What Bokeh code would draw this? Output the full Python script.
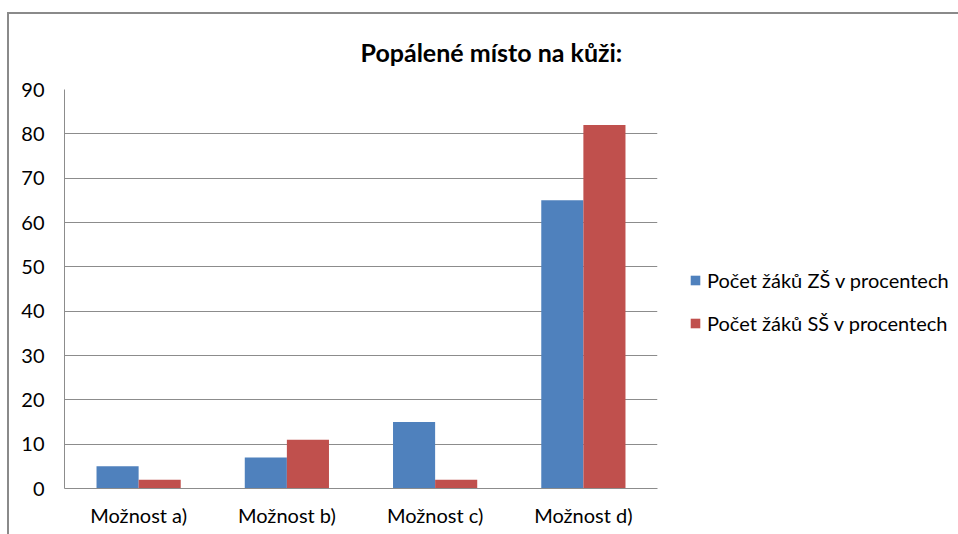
from bokeh.plotting import figure
from bokeh.models import ColumnDataSource, FactorRange, Range1d, FixedTicker, Legend, LegendItem, Title, Spacer
from bokeh.transform import dodge
from bokeh.layouts import column, row
from bokeh.embed import file_html
from bokeh.resources import INLINE

categories = ["Možnost a)", "Možnost b)", "Možnost c)", "Možnost d)"]
zs_values = [5, 7, 15, 65]
ss_values = [2, 11, 2, 82]
series_names = ["Počet žáků ZŠ v procentech", "Počet žáků SŠ v procentech"]
y_ticks = [0, 10, 20, 30, 40, 50, 60, 70, 80, 90]

FONT = "Lato"
GRID = "#8c8c8c"
BLUE = "#4F81BD"
RED = "#C0504D"

source = ColumnDataSource(dict(cat=categories, zs=zs_values, ss=ss_values))

p = figure(
    frame_width=591, frame_height=397,
    x_range=FactorRange(factors=categories, range_padding=0),
    y_range=Range1d(0, 90),
    output_backend="svg", toolbar_location=None,
    min_border_left=55, min_border_right=303, min_border_top=75, min_border_bottom=48,
)
p.styles = {"border-top": "2px solid #8a8a8a", "border-left": "2px solid #8a8a8a"}

p.title = Title(text="Popálené místo na kůži:", align="left", offset=296,
                vertical_align="top",
                text_font=FONT, text_font_size="25px", text_font_style="bold",
                text_color="#000000", standoff=42)

bw = 0.284
r1 = p.vbar(x=dodge("cat", -bw / 2, range=p.x_range), top="zs", width=bw, source=source,
            fill_color=BLUE, line_color=None)
r2 = p.vbar(x=dodge("cat", bw / 2, range=p.x_range), top="ss", width=bw, source=source,
            fill_color=RED, line_color=None)

p.outline_line_color = None
p.xgrid.grid_line_color = None
p.ygrid.grid_line_color = GRID
p.ygrid.grid_line_width = 1
p.yaxis.ticker = FixedTicker(ticks=y_ticks)

for ax in (p.xaxis[0], p.yaxis[0]):
    ax.axis_line_color = GRID
    ax.major_tick_line_color = None
    ax.minor_tick_line_color = None
    ax.major_label_text_font = FONT
    ax.major_label_text_font_size = "20px"
    ax.major_label_text_color = "#000000"
p.xaxis.major_label_standoff = 8
p.yaxis.major_label_standoff = 14

legend = Legend(items=[LegendItem(label=series_names[0], renderers=[r1]),
                       LegendItem(label=series_names[1], renderers=[r2])],
                location=(32, 153), orientation="vertical",
                label_text_font=FONT, label_text_font_size="20px", label_text_color="#000000",
                glyph_width=12, glyph_height=12, label_height=20, spacing=19,
                label_standoff=6, padding=0, margin=0, border_line_color=None,
                background_fill_alpha=0)
p.add_layout(legend, "right")

layout = column(Spacer(height=12), row(Spacer(width=7), p))
open("out.html", "w").write(file_html(layout, INLINE))
